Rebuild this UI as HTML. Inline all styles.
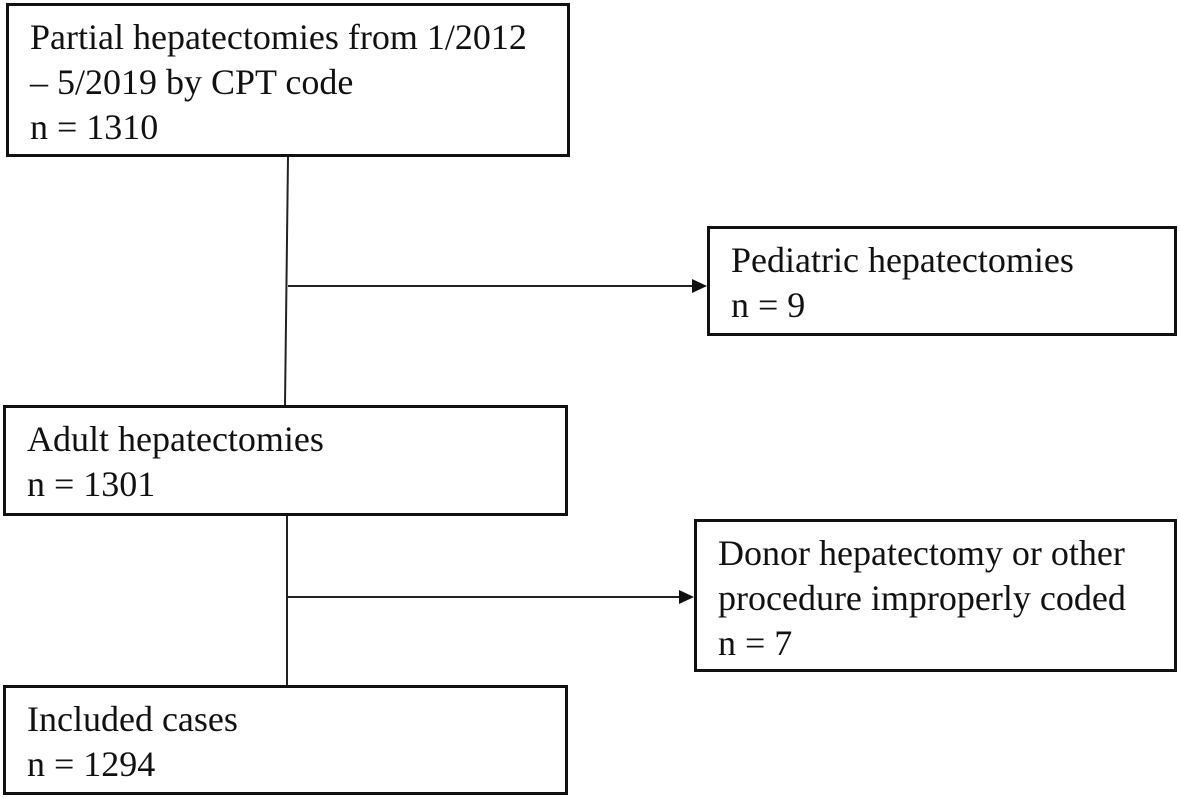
<!DOCTYPE html>
<html><head><meta charset="utf-8"><style>
html,body{margin:0;padding:0;background:#fff;}
body{width:1180px;height:798px;position:relative;overflow:hidden;font-family:"Liberation Serif",serif;color:#111;}
.b{position:absolute;border:3px solid #111;box-sizing:border-box;font-size:36px;line-height:45px;padding:9px 0 0 21px;white-space:nowrap;}
svg{position:absolute;left:0;top:0;}
</style></head><body>
<svg width="1180" height="798">
<g stroke="#222" stroke-width="2" fill="none">
<line x1="288" y1="157" x2="285" y2="405"/>
<line x1="288" y1="286" x2="694" y2="286"/>
<line x1="287" y1="516" x2="287" y2="685"/>
<line x1="287" y1="597" x2="681" y2="597"/>
</g>
<polygon points="707,286 692,279 692,293" fill="#111"/>
<polygon points="694,597 679,590 679,604" fill="#111"/>
</svg>
<div class="b" style="left:6px;top:3px;width:564px;height:154px;">Partial hepatectomies from 1/2012<br>– 5/2019 by CPT code<br>n = 1310</div>
<div class="b" style="left:707px;top:226px;width:470px;height:110px;">Pediatric hepatectomies<br>n = 9</div>
<div class="b" style="left:3px;top:405px;width:565px;height:111px;">Adult hepatectomies<br>n = 1301</div>
<div class="b" style="left:694px;top:519px;width:483px;height:153px;">Donor hepatectomy or other<br>procedure improperly coded<br>n = 7</div>
<div class="b" style="left:3px;top:685px;width:565px;height:110px;">Included cases<br>n = 1294</div>
</body></html>
